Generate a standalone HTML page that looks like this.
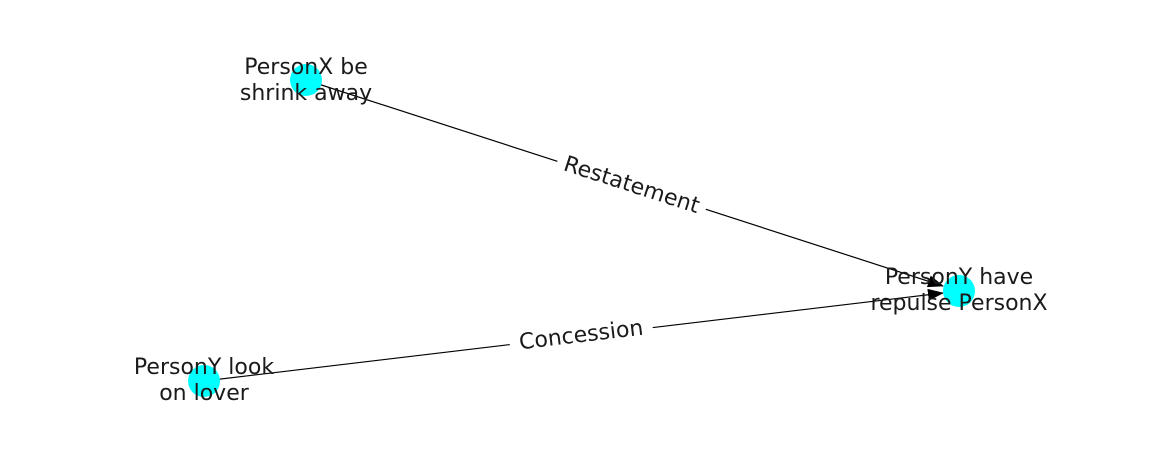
<!DOCTYPE html>
<html><head><style>html,body{margin:0;padding:0;background:#fff}</style></head>
<body>
<svg width="1162" height="462" xmlns="http://www.w3.org/2000/svg" font-family="DejaVu Sans, sans-serif" font-size="22" fill="#222">
<defs>
<marker id="a" markerWidth="16" markerHeight="12" refX="15" refY="6" orient="auto" markerUnits="userSpaceOnUse">
<path d="M0,0 L16,6 L0,12 z" fill="#000"/>
</marker>
</defs>
<line x1="306" y1="80" x2="943" y2="286" stroke="#000" stroke-width="1.2" marker-end="url(#a)"/>
<line x1="204" y1="381" x2="943" y2="293" stroke="#000" stroke-width="1.2" marker-end="url(#a)"/>
<circle cx="306" cy="80" r="16" fill="#00ffff"/>
<circle cx="959" cy="291" r="16" fill="#00ffff"/>
<circle cx="204" cy="381" r="16" fill="#00ffff"/>
<g text-anchor="middle" fill="#1a1a1a">
<text x="306" y="74">PersonX be</text>
<text x="306" y="100">shrink away</text>
<text x="959" y="284">PersonY have</text>
<text x="959" y="310">repulse PersonX</text>
<text x="204" y="374">PersonY look</text>
<text x="204" y="400">on lover</text>
<g transform="translate(632,184) rotate(17.9)">
<rect x="-78" y="-15" width="156" height="30" fill="#fff"/>
<text x="0" y="8">Restatement</text>
</g>
<g transform="translate(581,334) rotate(-6.8)">
<rect x="-72" y="-15" width="144" height="30" fill="#fff"/>
<text x="0" y="8">Concession</text>
</g>
</g>
</svg>
</body></html>
